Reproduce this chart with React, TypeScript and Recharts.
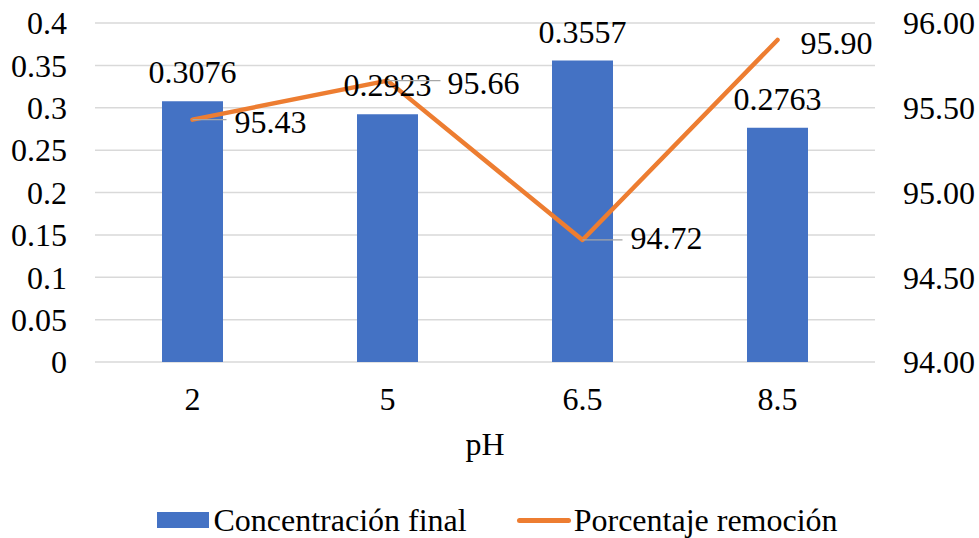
import React from 'react';
import { ComposedChart, Bar, Line, XAxis, YAxis, CartesianGrid, Legend, LabelList } from 'recharts';

// pH values on the x axis
const phLevels = ['2', '5', '6.5', '8.5'];
// final concentration (left axis)
const concentracion = [0.3076, 0.2923, 0.3557, 0.2763];
// removal percentage (right axis)
const remocion = [95.43, 95.66, 94.72, 95.9];

const leftTicks = [0, 0.05, 0.1, 0.15, 0.2, 0.25, 0.3, 0.35, 0.4];
const rightTicks = [94, 94.5, 95, 95.5, 96];

const data = phLevels.map((ph, i) => ({
  ph,
  concentracion: concentracion[i],
  remocion: remocion[i],
}));

const FONT = "Liberation Serif, Tinos, DejaVu Serif, serif";
const FS = 32;
const BLUE = '#4472C4';
const ORANGE = '#ED7D31';

// manual placement of the line labels (as moved in the original)
const lineLabelDx = [42, 60, 48, 23];
const lineLabelDy = [2, 2, -2, 3];
const leaderEnd = [34, 53, 40, 0];

const BarLabel = (props: any) => {
  const { x, y, width, value } = props;
  return (
    <text x={x + width / 2} y={y - 29} textAnchor="middle" dominantBaseline="central"
      style={{ fontFamily: FONT, fontSize: FS }} fill="#000">
      {value.toFixed(4)}
    </text>
  );
};

const LineLabel = (props: any) => {
  const { x, y, value, index } = props;
  const le = leaderEnd[index];
  return (
    <g>
      {le > 0 && <line x1={x} y1={y} x2={x + le} y2={y} stroke="#a6a6a6" strokeWidth={1.3} />}
      <text x={x + lineLabelDx[index]} y={y + lineLabelDy[index]} textAnchor="start" dominantBaseline="central"
        style={{ fontFamily: FONT, fontSize: FS }} fill="#000">
        {value.toFixed(2)}
      </text>
    </g>
  );
};

const LegendContent = () => (
  <div style={{ height: 76, display: 'flex', alignItems: 'flex-end', justifyContent: 'center', fontFamily: FONT, fontSize: FS, color: '#000', paddingLeft: 16 }}>
    <div style={{ height: 36, display: 'flex', alignItems: 'center' }}>
      <span style={{ display: 'inline-block', width: 52, height: 16, background: BLUE, marginRight: 4 }} />
      <span>Concentración final</span>
      <span style={{ display: 'inline-block', width: 54, height: 5, borderRadius: 3, background: ORANGE, marginLeft: 50, marginRight: 3 }} />
      <span>Porcentaje remoción</span>
    </div>
  </div>
);

export default function App() {
  const tick = { fontFamily: FONT, fontSize: FS, fill: '#000', style: { fontFamily: FONT } };
  return (
    <div style={{ position: 'absolute', left: 0, top: 0, background: '#fff', fontFamily: FONT }}>
      <ComposedChart width={979} height={538} data={data} margin={{ top: 23, right: 0, bottom: 0, left: 0 }}
        style={{ fontFamily: FONT }}>
        <CartesianGrid yAxisId="left" vertical={false} stroke="#d9d9d9" strokeWidth={1.5} />
        <XAxis dataKey="ph" height={100} tickLine={false} axisLine={false} tickSize={0} tickMargin={25} tick={tick}
          label={{ value: 'pH', position: 'insideBottom', offset: 7, fontFamily: FONT, fontSize: FS, fill: '#000' }} />
        <YAxis yAxisId="left" width={95} domain={[0, 0.4]} ticks={leftTicks} interval={0} tickLine={false} axisLine={false}
          tickSize={0} tickMargin={28} tick={tick} />
        <YAxis yAxisId="right" orientation="right" width={104} domain={[94, 96]} ticks={rightTicks} interval={0}
          tickLine={false} axisLine={false} tickSize={0} tickMargin={28} tick={tick}
          tickFormatter={(v: number) => v.toFixed(2)} />
        <Legend verticalAlign="bottom" content={() => <LegendContent />} />
        <Bar yAxisId="left" dataKey="concentracion" name="Concentración final" fill={BLUE} barSize={61} isAnimationActive={false}>
          <LabelList dataKey="concentracion" content={BarLabel} />
        </Bar>
        <Line yAxisId="right" dataKey="remocion" name="Porcentaje remoción" stroke={ORANGE} strokeWidth={4.5}
          strokeLinecap="round" strokeLinejoin="round" dot={false} type="linear" isAnimationActive={false}>
          <LabelList dataKey="remocion" content={LineLabel} />
        </Line>
      </ComposedChart>
    </div>
  );
}
